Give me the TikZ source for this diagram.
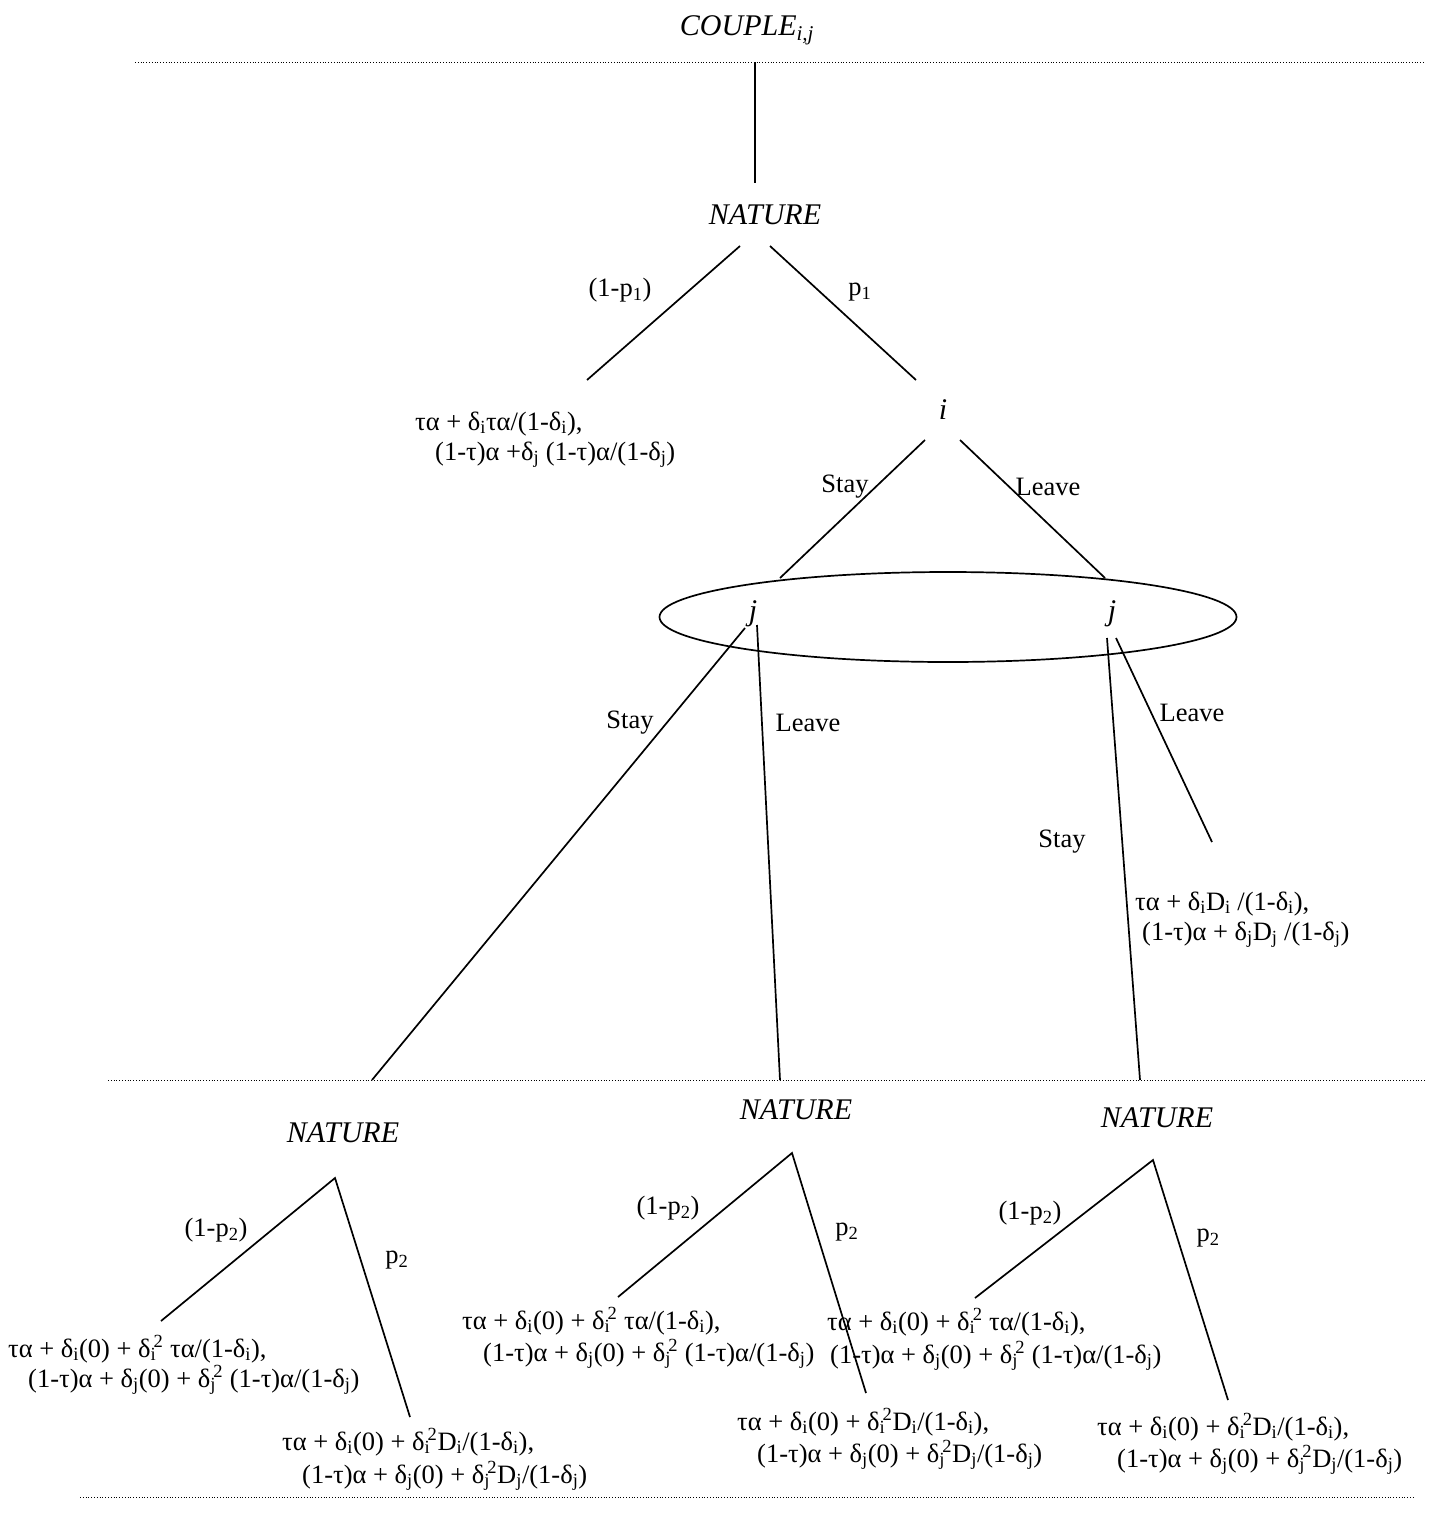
\documentclass[tikz,border=0pt]{standalone}
\usepackage{fontspec}
\setmainfont{Liberation Serif}
\usetikzlibrary{shapes.geometric}
\newcommand{\dl}[1]{δ\textsubscript{#1}}
\newcommand{\dsq}[1]{δ\rlap{\textsubscript{#1}}\textsuperscript{\,2}}
\begin{document}
\begin{tikzpicture}[x=1pt,y=-1pt,
  every node/.style={inner sep=0pt, font=\fontsize{26.5}{30}\selectfont},
  edge/.style={line width=1.7pt},
  sepline/.style={dotted, line width=0.8pt},
  player/.style={font=\fontsize{30}{32}\selectfont\itshape},
  lbl/.style={},
  pay/.style={anchor=base west}]
\useasboundingbox (0,0) rectangle (1434,1513);

% separators
\coordinate (s1a) at (135,62);   \coordinate (s1b) at (1425,62);
\coordinate (s2a) at (108,1080); \coordinate (s2b) at (1425,1080);
\coordinate (s3a) at (80,1497);  \coordinate (s3b) at (1415,1497);
\draw[sepline] (s1a) -- (s1b);
\draw[sepline] (s2a) -- (s2b);
\draw[sepline] (s3a) -- (s3b);

% titles / players
\node[player] (couple) at (747,30) {COUPLE\textsubscript{i,j}};
\node[player] (nat0) at (765,215) {NATURE};
\node[player] (pi) at (943,410) {i};
\node[player] (jL) at (753,614) {j};
\node[player] (jR) at (1112,614) {j};
\node[player] (nat1) at (343,1133) {NATURE};
\node[player] (nat2) at (796,1110) {NATURE};
\node[player] (nat3) at (1157,1118) {NATURE};

% information set
\node[draw, ellipse, line width=1.7pt, minimum width=577pt, minimum height=90pt] (info) at (948,617) {};

% edge points
\coordinate (c0) at (755,62);   \coordinate (c1) at (755,183);
\coordinate (n0l) at (740,246); \coordinate (e0l) at (587,380);
\coordinate (n0r) at (770,246); \coordinate (e0r) at (916,380);
\coordinate (il) at (925,440);  \coordinate (eil) at (780,578);
\coordinate (ir) at (960,440);  \coordinate (eir) at (1105,578);
\coordinate (jLs) at (745,628); \coordinate (ejLs) at (372,1080);
\coordinate (jLl) at (757,625); \coordinate (ejLl) at (780,1080);
\coordinate (jRs) at (1107,638); \coordinate (ejRs) at (1140,1080);
\coordinate (jRl) at (1116,638); \coordinate (ejRl) at (1212,842);
\coordinate (a1) at (335,1178); \coordinate (a1l) at (161,1321); \coordinate (a1r) at (410,1417);
\coordinate (a2) at (792,1153); \coordinate (a2l) at (618,1297); \coordinate (a2r) at (866,1393);
\coordinate (a3) at (1153,1160); \coordinate (a3l) at (975,1298); \coordinate (a3r) at (1228,1400);

\draw[edge] (c0) -- (c1);
\draw[edge] (n0l) -- (e0l);
\draw[edge] (n0r) -- (e0r);
\draw[edge] (il) -- (eil);
\draw[edge] (ir) -- (eir);
\draw[edge] (jLs) -- (ejLs);
\draw[edge] (jLl) -- (ejLl);
\draw[edge] (jRs) -- (ejRs);
\draw[edge] (jRl) -- (ejRl);
\draw[edge] (a1l) -- (a1) -- (a1r);
\draw[edge] (a2l) -- (a2) -- (a2r);
\draw[edge] (a3l) -- (a3) -- (a3r);

% branch labels
\node[lbl] (lp1n) at (620,290) {(1-p\textsubscript{1})};
\node[lbl] (lp1) at (860,292) {p\textsubscript{1}};
\node[lbl] (lis) at (845,487) {Stay};
\node[lbl] (lil) at (1048,487) {Leave};
\node[lbl] (ljLs) at (630,723) {Stay};
\node[lbl] (ljLl) at (808,723) {Leave};
\node[lbl] (ljRl) at (1192,713) {Leave};
\node[lbl] (ljRs) at (1062,842) {Stay};
\node[lbl] (l1n) at (216,1230) {(1-p\textsubscript{2})};
\node[lbl] (l1) at (397,1260) {p\textsubscript{2}};
\node[lbl] (l2n) at (668,1208) {(1-p\textsubscript{2})};
\node[lbl] (l2) at (847,1232) {p\textsubscript{2}};
\node[lbl] (l3n) at (1030,1213) {(1-p\textsubscript{2})};
\node[lbl] (l3) at (1208,1238) {p\textsubscript{2}};

% payoffs
\node[pay] (p0a) at (415,430) {τα + \dl{i}τα/(1-\dl{i}),};
\node[pay] (p0b) at (435,460) {(1-τ)α +\dl{j} (1-τ)α/(1-\dl{j})};
\node[pay] (pDa) at (1135,910) {τα + \dl{i}D\textsubscript{i} /(1-\dl{i}),};
\node[pay] (pDb) at (1142,940) {(1-τ)α + \dl{j}D\textsubscript{j} /(1-\dl{j})};

\node[pay] (q1a) at (8,1357) {τα + \dl{i}(0) + \dsq{i} τα/(1-\dl{i}),};
\node[pay] (q1b) at (28,1387) {(1-τ)α + \dl{j}(0) + \dsq{j} (1-τ)α/(1-\dl{j})};
\node[pay] (r1a) at (282,1450) {τα + \dl{i}(0) + \dsq{i}D\textsubscript{i}/(1-\dl{i}),};
\node[pay] (r1b) at (302,1483) {(1-τ)α + \dl{j}(0) + \dsq{j}D\textsubscript{j}/(1-\dl{j})};

\node[pay] (q2a) at (462,1329) {τα + \dl{i}(0) + \dsq{i} τα/(1-\dl{i}),};
\node[pay] (q2b) at (483,1361) {(1-τ)α + \dl{j}(0) + \dsq{j} (1-τ)α/(1-\dl{j})};
\node[pay] (r2a) at (737,1430) {τα + \dl{i}(0) + \dsq{i}D\textsubscript{i}/(1-\dl{i}),};
\node[pay] (r2b) at (757,1462) {(1-τ)α + \dl{j}(0) + \dsq{j}D\textsubscript{j}/(1-\dl{j})};

\node[pay] (q3a) at (827,1330) {τα + \dl{i}(0) + \dsq{i} τα/(1-\dl{i}),};
\node[pay] (q3b) at (830,1363) {(1-τ)α + \dl{j}(0) + \dsq{j} (1-τ)α/(1-\dl{j})};
\node[pay] (r3a) at (1097,1435) {τα + \dl{i}(0) + \dsq{i}D\textsubscript{i}/(1-\dl{i}),};
\node[pay] (r3b) at (1117,1467) {(1-τ)α + \dl{j}(0) + \dsq{j}D\textsubscript{j}/(1-\dl{j})};
\end{tikzpicture}
\end{document}
